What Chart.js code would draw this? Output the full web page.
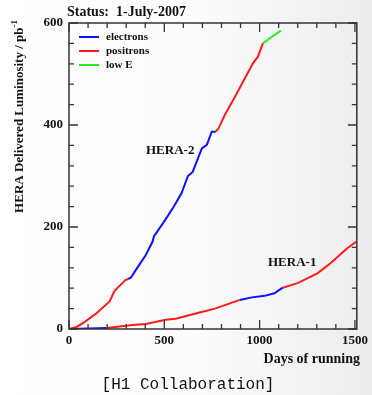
<!DOCTYPE html>
<html>
<head>
<meta charset="utf-8">
<script src="https://cdn.jsdelivr.net/npm/chart.js@4/dist/chart.umd.min.js"></script>
<style>
  html, body { margin: 0; padding: 0; background: #fff; }
  #wrap { width: 372px; height: 395px; position: relative; }
</style>
</head>
<body>
<div id="wrap"><canvas id="lumi"></canvas></div>
<script>
// HERA-2 running (days, integrated lumi in pb^-1), split by beam type
const hera2Pos1 = [[0,0],[40,4],[83,14],[144,31],[213,54],[239,75],[296,96],[310,98]];
const hera2Ele  = [[310,98],[325,101],[351,116],[403,145],[438,171],[446,182],[498,210],
                   [550,240],[590,266],[624,300],[649,308],[697,354],[723,361],[749,387],[770,387]];
const hera2Pos2 = [[770,387],[784,393],[818,420],[870,455],[922,491],[965,521],[991,534],[1017,560]];
const hera2LowE = [[1017,560],[1060,572],[1112,585]];

// HERA-1 running
const hera1Ele1 = [[0,0],[100,1],[196,2]];
const hera1Pos1 = [[196,2],[334,8],[403,10],[507,18],[559,20],[680,32],[766,40],[896,57]];
const hera1Ele2 = [[896,57],[960,62],[1026,65],[1078,70],[1121,81]];
const hera1Pos2 = [[1121,81],[1199,90],[1303,109],[1372,129],[1458,158],[1507,171]];

const legendNames = ['electrons', 'positrons', 'low E'];
const BLUE = '#0b10ff', RED = '#ff1a1a', GREEN = '#22ee22';

const xTicks = [0, 500, 1000, 1500];
const yTicks = [0, 200, 400, 600];

function toPts(arr){ return arr.map(p => ({x: p[0], y: p[1]})); }
function line(arr, color){
  return { data: toPts(arr), borderColor: color, borderWidth: 2, pointRadius: 0,
           fill: false, tension: 0, showLine: true };
}

const serif = '"Liberation Serif", "DejaVu Serif", serif';

const bgPlugin = {
  id: 'bg',
  beforeDraw(chart){
    const c = chart.ctx;
    const g = c.createLinearGradient(0, 0, chart.width, 0);
    g.addColorStop(0, '#ffffff');
    g.addColorStop(0.5, '#fcfcfc');
    g.addColorStop(1, '#ededed');
    c.save();
    c.fillStyle = g;
    c.fillRect(0, 0, chart.width, chart.height);
    c.restore();
  }
};

const framePlugin = {
  id: 'frame',
  afterDraw(chart){
    const c = chart.ctx, a = chart.chartArea;
    const xs = chart.scales.x, ys = chart.scales.y;
    c.save();
    c.strokeStyle = '#333';
    c.lineWidth = 1.5;
    c.strokeRect(a.left, a.top, a.right - a.left, a.bottom - a.top);
    // inward tick marks on all four sides
    c.lineWidth = 1.3;
    for (let v = 0; v <= 1500; v += 100){
      const px = xs.getPixelForValue(v);
      const len = v % 500 === 0 ? 9 : 5;
      c.beginPath();
      c.moveTo(px, a.bottom); c.lineTo(px, a.bottom - len);
      c.moveTo(px, a.top); c.lineTo(px, a.top + len);
      c.stroke();
    }
    for (let v = 0; v <= 600; v += 40){
      const py = ys.getPixelForValue(v);
      const len = v % 200 === 0 ? 9 : 5;
      c.beginPath();
      c.moveTo(a.left, py); c.lineTo(a.left + len, py);
      c.moveTo(a.right, py); c.lineTo(a.right - len, py);
      c.stroke();
    }

    // legend
    const cols = [BLUE, RED, GREEN];
    c.font = 'bold 11px ' + serif;
    c.textBaseline = 'middle';
    c.textAlign = 'left';
    legendNames.forEach((n, i) => {
      const y = 37 + i * 14;
      c.strokeStyle = cols[i];
      c.lineWidth = 2;
      c.beginPath(); c.moveTo(79, y); c.lineTo(99, y); c.stroke();
      c.fillStyle = '#111';
      c.fillText(n, 106, y);
    });

    c.fillStyle = '#111';
    c.font = 'bold 13px ' + serif;
    c.fillText('HERA-2', 146, 151);
    c.fillText('HERA-1', 268, 263);

    c.font = 'bold 14px ' + serif;
    c.textBaseline = 'alphabetic';
    c.fillText('Status:  1-July-2007', 67, 16);

    c.textAlign = 'right';
    c.fillText('Days of running', 360, 363);

    // y-axis title with superscript
    c.save();
    c.translate(23, 20);
    c.rotate(-Math.PI / 2);
    c.font = 'bold 9px ' + serif;
    c.textAlign = 'right';
    c.fillText('-1', 0, -6);
    const w = c.measureText('-1').width;
    c.font = 'bold 13px ' + serif;
    c.fillText('HERA Delivered Luminosity / pb', -w, 0);
    c.restore();

    c.textAlign = 'center';
    c.font = '16px "Liberation Mono", "DejaVu Sans Mono", monospace';
    c.fillText('[H1 Collaboration]', 188, 389);
    c.restore();
  }
};

new Chart(document.getElementById('lumi'), {
  type: 'scatter',
  data: {
    datasets: [
      line(hera2Pos1, RED), line(hera2Ele, BLUE), line(hera2Pos2, RED), line(hera2LowE, GREEN),
      line(hera1Ele1, BLUE), line(hera1Pos1, RED), line(hera1Ele2, BLUE), line(hera1Pos2, RED)
    ]
  },
  options: {
    responsive: true,
    maintainAspectRatio: false,
    animation: false,
    layout: { padding: { top: 23, right: 12, left: 0, bottom: 0 } },
    plugins: { legend: { display: false }, tooltip: { enabled: false } },
    scales: {
      x: {
        type: 'linear', min: 0, max: 1510,
        afterFit(s){ s.height = 66; },
        afterBuildTicks(s){ s.ticks = xTicks.map(v => ({value: v})); },
        grid: { display: false, drawTicks: false },
        border: { display: false },
        ticks: { color: '#111', padding: 4, callback: v => String(v),
                 font: { family: serif, weight: 'bold', size: 13 } }
      },
      y: {
        type: 'linear', min: 0, max: 600,
        afterFit(s){ s.width = 69; },
        afterBuildTicks(s){ s.ticks = yTicks.map(v => ({value: v})); },
        grid: { display: false, drawTicks: false },
        border: { display: false },
        ticks: { color: '#111', padding: 6, callback: v => String(v),
                 font: { family: serif, weight: 'bold', size: 13 } }
      }
    }
  },
  plugins: [bgPlugin, framePlugin]
});
</script>
</body>
</html>
